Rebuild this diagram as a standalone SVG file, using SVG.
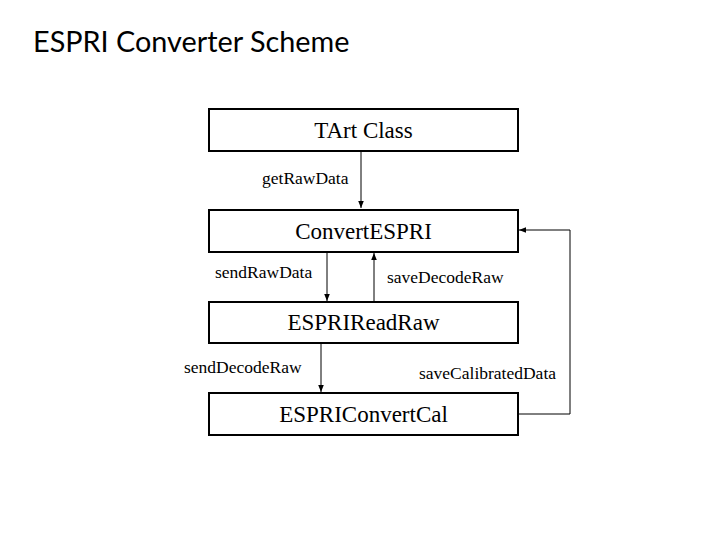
<svg xmlns="http://www.w3.org/2000/svg" width="720" height="540" viewBox="0 0 720 540">
<style>
.box{fill:#fff;stroke:#000;stroke-width:2}
.bt{font-family:"Liberation Serif",serif;font-size:23px;text-anchor:middle;fill:#000}
.lbl{font-family:"Liberation Serif",serif;font-size:17.5px;fill:#000}
.c{fill:none;stroke:#000;stroke-width:1}
.title{font-family:Lato,"Open Sans",sans-serif;font-size:28.8px;fill:#000}
</style>
<defs>
<marker id="ah" viewBox="0 0 10 10" refX="10" refY="5" markerWidth="7" markerHeight="7" markerUnits="userSpaceOnUse" orient="auto">
<path d="M0,1 L10,5 L0,9 z" fill="#000"/>
</marker>
</defs>
<rect width="720" height="540" fill="#fff"/>
<text class="title" x="33" y="52">ESPRI Converter Scheme</text>
<g id="tart"><rect class="box" x="209" y="109" width="309" height="42"/><text class="bt" x="363.5" y="138">TArt Class</text></g>
<g id="convertespri"><rect class="box" x="209" y="210" width="309" height="42"/><text class="bt" x="363.5" y="239">ConvertESPRI</text></g>
<g id="espriread"><rect class="box" x="209" y="302" width="309" height="41"/><text class="bt" x="363.5" y="330">ESPRIReadRaw</text></g>
<g id="espriconv"><rect class="box" x="209" y="393" width="309" height="42"/><text class="bt" x="363.5" y="422">ESPRIConvertCal</text></g>
<g id="connectors">
<path class="c" d="M361,151 V208" marker-end="url(#ah)"/>
<path class="c" d="M327,253 V301" marker-end="url(#ah)"/>
<path class="c" d="M374,302 V253" marker-end="url(#ah)"/>
<path class="c" d="M321,344 V392" marker-end="url(#ah)"/>
<path class="c" d="M519,414 H570 V230 H519" marker-end="url(#ah)"/>
<text class="lbl" x="262" y="184">getRawData</text>
<text class="lbl" x="215" y="278">sendRawData</text>
<text class="lbl" x="387" y="283">saveDecodeRaw</text>
<text class="lbl" x="184" y="373">sendDecodeRaw</text>
<text class="lbl" x="419" y="379">saveCalibratedData</text>
</g>
</svg>
